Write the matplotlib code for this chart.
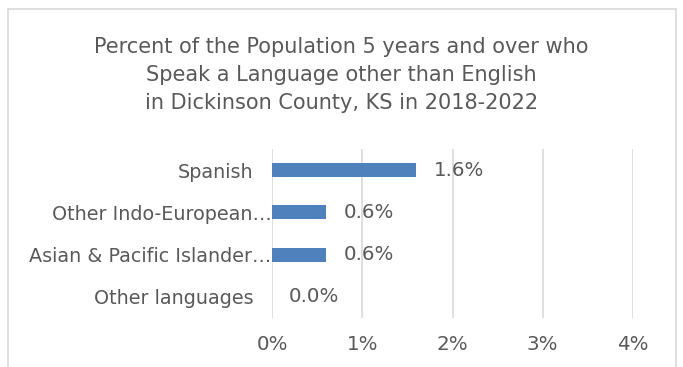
import matplotlib
matplotlib.use("Agg")
import matplotlib.pyplot as plt
import matplotlib.transforms as mtransforms
from matplotlib.patches import Rectangle

categories = ["Spanish", "Other Indo-European…", "Asian & Pacific Islander…", "Other languages"]
values = [1.6, 0.6, 0.6, 0.0]
value_labels = ["1.6%", "0.6%", "0.6%", "0.0%"]
xticks = [0, 1, 2, 3, 4]
xtick_labels = ["0%", "1%", "2%", "3%", "4%"]
title = ("Percent of the Population 5 years and over who\n"
         "Speak a Language other than English\n"
         "in Dickinson County, KS in 2018-2022")

plt.rcParams['font.family'] = ['DejaVu Sans']
grey = "#595959"
W, H = 683, 367
fig = plt.figure(figsize=(W/100, H/100), dpi=100)
fig.patches.append(Rectangle((8/W, -0.1), (676-8)/W, 1.1 - 9/H, transform=fig.transFigure,
                             fill=False, edgecolor="#d9d9d9", linewidth=1.2))

ax = fig.add_axes([272/W, 1-318/H, (633-272)/W, (318-149)/H])
y = list(range(len(categories)))
ax.barh(y, values, height=0.33, color="#4f81bd", zorder=3)
ax.set_ylim(len(categories)-0.5, -0.5)
ax.set_xlim(0, 4)
ax.set_xticks(xticks)
ax.set_xticklabels(xtick_labels, fontsize=14.3, color=grey)
ax.set_yticks(y)
ax.set_yticklabels(categories, fontsize=13.8, color=grey)
ax.tick_params(axis='y', length=0, pad=13.5)
ax.tick_params(axis='x', length=0, pad=12)
# truncated labels overflow toward the axis, as in the reference
shift = mtransforms.ScaledTranslation(18/100, 0, fig.dpi_scale_trans)
for lbl in ax.get_yticklabels():
    if lbl.get_text().endswith("…"):
        lbl.set_transform(lbl.get_transform() + shift)
for s in ax.spines.values():
    s.set_visible(False)
ax.axvline(0, color="#d9d9d9", linewidth=1.2, zorder=2)
for t in xticks[1:]:
    ax.axvline(t, color="#d9d9d9", linewidth=1.2, zorder=1)
for yi, v, lab in zip(y, values, value_labels):
    ax.text(v + 0.19, yi, lab, va='center', ha='left', fontsize=14.3, color=grey)

fig.text(0.5, 1-75/H, title, ha='center', va='center', fontsize=15, color=grey, linespacing=1.5)
fig.savefig("out.png", dpi=100)
